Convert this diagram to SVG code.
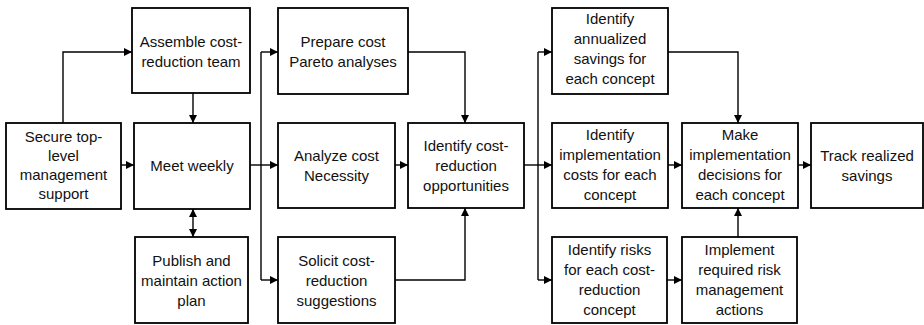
<svg xmlns="http://www.w3.org/2000/svg" width="924" height="325" viewBox="0 0 924 325">
<defs>
<marker id="ah" viewBox="0 0 8 8" refX="8" refY="4" markerWidth="8" markerHeight="8" markerUnits="userSpaceOnUse" orient="auto-start-reverse">
<path d="M0,0 L8,4 L0,8 z" fill="#000"/>
</marker>
</defs>
<style>
rect{fill:#fff;stroke:#000;stroke-width:1.8}
text{font-family:"Liberation Sans",Arial,sans-serif;font-size:15px;fill:#111;text-anchor:middle}
.c path{fill:none;stroke:#000;stroke-width:1.4}
</style>
<rect x="0" y="0" width="924" height="325" style="stroke:none"/>
<g class="c" id="connectors">
<path d="M63,123 V52 H132" marker-end="url(#ah)"/>
<path d="M121,165 H134" marker-end="url(#ah)"/>
<path d="M193,93 V123" marker-end="url(#ah)"/>
<path d="M193,209 V237" marker-start="url(#ah)" marker-end="url(#ah)"/>
<path d="M250,165 H278" marker-end="url(#ah)"/>
<path d="M261,52 V280"/>
<path d="M261,52 H278" marker-end="url(#ah)"/>
<path d="M261,280 H278" marker-end="url(#ah)"/>
<path d="M408,52 H465 V123" marker-end="url(#ah)"/>
<path d="M395,165 H408" marker-end="url(#ah)"/>
<path d="M395,280 H465 V208" marker-end="url(#ah)"/>
<path d="M524,165 H552" marker-end="url(#ah)"/>
<path d="M538,52 V280"/>
<path d="M538,52 H552" marker-end="url(#ah)"/>
<path d="M538,280 H552" marker-end="url(#ah)"/>
<path d="M668,52 H738 V123" marker-end="url(#ah)"/>
<path d="M668,165 H682" marker-end="url(#ah)"/>
<path d="M667,280 H682" marker-end="url(#ah)"/>
<path d="M738,237 V208" marker-end="url(#ah)"/>
<path d="M798,165 H811" marker-end="url(#ah)"/>
</g>
<g id="secure"><rect x="6" y="123" width="115" height="86"/>
<text x="63.5" y="142">Secure top-</text><text x="63.5" y="161">level</text><text x="63.5" y="180">management</text><text x="63.5" y="199">support</text></g>
<g id="assemble"><rect x="132" y="8" width="118" height="85"/>
<text x="191" y="47">Assemble cost-</text><text x="191" y="67">reduction team</text></g>
<g id="meet"><rect x="134" y="123" width="116" height="86"/>
<text x="192" y="171">Meet weekly</text></g>
<g id="publish"><rect x="135" y="237" width="113" height="86"/>
<text x="191.5" y="266">Publish and</text><text x="191.5" y="286">maintain action</text><text x="191.5" y="306">plan</text></g>
<g id="prepare"><rect x="278" y="8" width="130" height="86"/>
<text x="343" y="47">Prepare cost</text><text x="343" y="67">Pareto analyses</text></g>
<g id="analyze"><rect x="278" y="123" width="117" height="85"/>
<text x="336.5" y="161">Analyze cost</text><text x="336.5" y="181">Necessity</text></g>
<g id="identify"><rect x="408" y="123" width="116" height="85"/>
<text x="466" y="151">Identify cost-</text><text x="466" y="171">reduction</text><text x="466" y="191">opportunities</text></g>
<g id="solicit"><rect x="278" y="237" width="117" height="86"/>
<text x="336.5" y="266">Solicit cost-</text><text x="336.5" y="286">reduction</text><text x="336.5" y="306">suggestions</text></g>
<g id="annualized"><rect x="552" y="8" width="116" height="86"/>
<text x="610" y="24">Identify</text><text x="610" y="44">annualized</text><text x="610" y="64">savings for</text><text x="610" y="84">each concept</text></g>
<g id="implcosts"><rect x="552" y="123" width="116" height="85"/>
<text x="610" y="140">Identify</text><text x="610" y="160">implementation</text><text x="610" y="180">costs for each</text><text x="610" y="200">concept</text></g>
<g id="risks"><rect x="552" y="237" width="115" height="86"/>
<text x="609.5" y="255">Identify risks</text><text x="609.5" y="275">for each cost-</text><text x="609.5" y="295">reduction</text><text x="609.5" y="315">concept</text></g>
<g id="make"><rect x="682" y="123" width="116" height="85"/>
<text x="740" y="140">Make</text><text x="740" y="160">implementation</text><text x="740" y="180">decisions for</text><text x="740" y="200">each concept</text></g>
<g id="implement"><rect x="682" y="237" width="115" height="86"/>
<text x="739.5" y="255">Implement</text><text x="739.5" y="275">required risk</text><text x="739.5" y="295">management</text><text x="739.5" y="315">actions</text></g>
<g id="track"><rect x="811" y="123" width="112" height="85"/>
<text x="867" y="161">Track realized</text><text x="867" y="181">savings</text></g>
</svg>
